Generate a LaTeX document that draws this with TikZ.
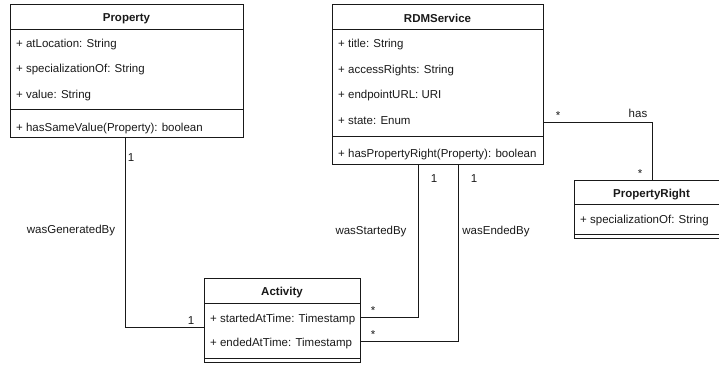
\documentclass[tikz,border=0pt]{standalone}
\usepackage{fontspec}
\setmainfont{Liberation Sans}
\usetikzlibrary{calc}
\definecolor{ink}{RGB}{25,25,25}

\tikzset{
  classbox/.style={draw=ink,line width=1pt,anchor=north west,inner sep=0pt},
  classtitle/.style={inner sep=0pt,text=ink,font=\fontsize{11.5}{13}\selectfont\bfseries},
  member/.style={anchor=west,inner sep=0pt,text=ink,font=\fontsize{11.5}{13}\selectfont},
  rolelabel/.style={inner sep=0pt,text=ink,font=\fontsize{11.5}{13}\selectfont},
  assoc/.style={draw=ink,line width=1pt},
}

\begin{document}
\begin{tikzpicture}[x=1pt,y=-1pt]
\useasboundingbox (0,0) rectangle (719,364);

% Property
\node[classbox,minimum width=233,minimum height=133] (prop) at (10,4) {};
\draw[assoc] (10,29) -- (243,29);
\draw[assoc] (10,109) -- (243,109);
\node[classtitle] (propT) at (126.5,18.5) {Property};
\node[member] (propA) at (16,44.5) {+ atLocation: String};
\node[member] (propB) at (16,69.5) {+ specializationOf: String};
\node[member] (propC) at (16,95.5) {+ value: String};
\node[member] (propM) at (16,129) {+ hasSameValue(Property): boolean};

% RDMService
\node[classbox,minimum width=211,minimum height=160] (rdm) at (332,4) {};
\draw[assoc] (332,29) -- (543,29);
\draw[assoc] (332,136) -- (543,136);
\node[classtitle] (rdmT) at (437.5,18.5) {RDMService};
\node[member] (rdmA) at (338,44.5) {+ title: String};
\node[member] (rdmB) at (338,70.5) {+ accessRights: String};
\node[member] (rdmC) at (338,95.5) {+ endpointURL: URI};
\node[member] (rdmD) at (338,120.5) {+ state: Enum};
\node[member] (rdmM) at (338,154.5) {+ hasPropertyRight(Property): boolean};

% Activity
\node[classbox,minimum width=156,minimum height=84] (act) at (204,278) {};
\draw[assoc] (204,303) -- (360,303);
\draw[assoc] (204,358) -- (360,358);
\node[classtitle] (actT) at (282,292.5) {Activity};
\node[member] (actA) at (210,319.5) {+ startedAtTime: Timestamp};
\node[member] (actB) at (210,343.5) {+ endedAtTime: Timestamp};

% PropertyRight
\node[classbox,minimum width=155,minimum height=58] (pr) at (574,180) {};
\draw[assoc] (574,204) -- (729,204);
\draw[assoc] (574,234) -- (729,234);
\node[classtitle] (prT) at (651.5,194.5) {PropertyRight};
\node[member] (prA) at (580,220.5) {+ specializationOf: String};

% associations
\draw[assoc] ([xshift=-1.5pt]prop.south) |- ([yshift=-7pt]act.west);
\draw[assoc] ([xshift=-20pt]rdm.south) |- ([yshift=3pt]act.east);
\draw[assoc] ([xshift=20pt]rdm.south) |- ([yshift=-21pt]act.east);
\draw[assoc] ([yshift=-38pt]rdm.east) -| (pr.north);

\node[rolelabel] (genLbl) at (71,230.5) {wasGeneratedBy};
\node[rolelabel] (genOne) at (131,158) {1};
\node[rolelabel] (genAct) at (191,321) {1};
\node[rolelabel] (stLbl) at (371,231.5) {wasStartedBy};
\node[rolelabel] (stOne) at (434,179) {1};
\node[rolelabel] (stMany) at (373,311) {*};
\node[rolelabel] (enLbl) at (496,231.5) {wasEndedBy};
\node[rolelabel] (enOne) at (474,179) {1};
\node[rolelabel] (enMany) at (373,335) {*};
\node[rolelabel] (hasLbl) at (638,113.5) {has};
\node[rolelabel] (hasFrom) at (558,116) {*};
\node[rolelabel] (hasTo) at (640,174) {*};
\end{tikzpicture}
\end{document}
